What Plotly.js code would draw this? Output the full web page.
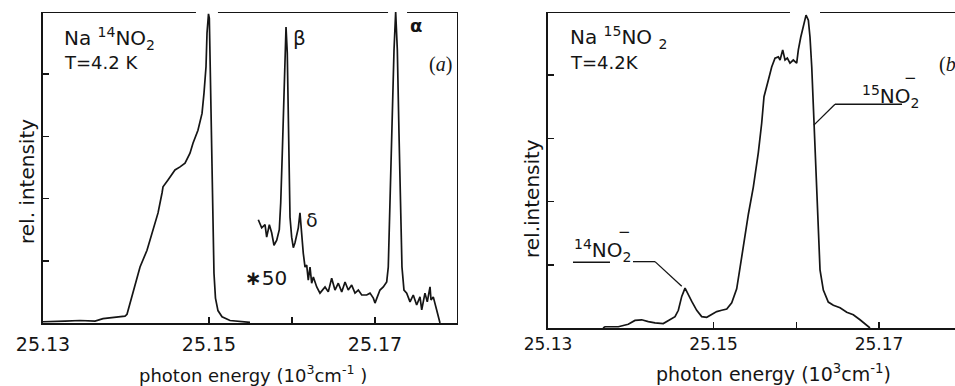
<!DOCTYPE html>
<html><head><meta charset="utf-8">
<script src="https://cdn.plot.ly/plotly-3.0.1.min.js"></script>
<style>html,body{margin:0;padding:0;background:#fff}#chart{width:955px;height:386px}</style>
</head><body><div id="chart"></div>
<script>
// ---- Panel (a): Na14NO2, T = 4.2 K ----
const aMainE = [25.13000, 25.13145, 25.13265, 25.13446, 25.13627, 25.13723, 25.13867, 25.13988, 25.14012, 25.14084,
  25.14169, 25.14253, 25.14325, 25.14386, 25.14434, 25.14446, 25.14506, 25.14590, 25.14651, 25.14711,
  25.14771, 25.14807, 25.14867, 25.14916, 25.14940, 25.14964, 25.14976, 25.14994, 25.15004, 25.15012,
  25.15024, 25.15036, 25.15048, 25.15060, 25.15078, 25.15108, 25.15157, 25.15253, 25.15494];
const aMainI = [0.02, 0.02, 0.03, 0.04, 0.03, 0.07, 0.09, 0.11, 0.14, 0.48,
  0.90, 1.17, 1.50, 1.77, 2.09, 2.19, 2.30, 2.46, 2.51, 2.57,
  2.73, 2.89, 3.10, 3.37, 3.70, 4.12, 4.66, 4.97, 4.90, 4.30,
  3.30, 2.30, 1.40, 0.80, 0.40, 0.20, 0.10, 0.04, 0.01];
// magnified (x50) part
const aX50E = [25.15594, 25.15635, 25.15675, 25.15695, 25.15727, 25.15755, 25.15783, 25.15816, 25.15847, 25.15864,
  25.15883, 25.15904, 25.15919, 25.15928, 25.15943, 25.15955, 25.15967, 25.15976, 25.15996, 25.16016,
  25.16036, 25.16057, 25.16076, 25.16096, 25.16108, 25.16124, 25.16136, 25.16157, 25.16177, 25.16196,
  25.16217, 25.16237, 25.16257, 25.16298, 25.16337, 25.16398, 25.16437, 25.16478, 25.16518, 25.16558,
  25.16599, 25.16639, 25.16678, 25.16719, 25.16759, 25.16799, 25.16840, 25.16900, 25.16940, 25.16980,
  25.17000, 25.17028, 25.17060, 25.17100, 25.17141, 25.17160, 25.17181, 25.17201, 25.17229, 25.17249,
  25.17269, 25.17289, 25.17310, 25.17325, 25.17349, 25.17382, 25.17422, 25.17461, 25.17502, 25.17542,
  25.17563, 25.17602, 25.17630, 25.17663, 25.17675, 25.17702, 25.17743, 25.17783];
const aX50I = [1.66, 1.53, 1.58, 1.38, 1.58, 1.45, 1.25, 1.33, 1.50, 1.93,
  2.73, 3.54, 4.44, 4.76, 4.34, 3.26, 2.19, 1.70, 1.38, 1.21,
  1.29, 1.45, 1.53, 1.77, 1.54, 1.33, 1.12, 0.90, 0.93, 0.69,
  0.90, 0.64, 0.74, 0.58, 0.48, 0.58, 0.50, 0.72, 0.53, 0.64,
  0.50, 0.66, 0.53, 0.61, 0.48, 0.53, 0.45, 0.45, 0.48, 0.40,
  0.32, 0.42, 0.53, 0.58, 0.66, 0.90, 1.98, 3.31, 4.39, 5.00,
  4.39, 3.05, 1.70, 0.90, 0.53, 0.48, 0.34, 0.45, 0.29, 0.42,
  0.21, 0.48, 0.34, 0.58, 0.37, 0.42, 0.21, 0.00];

// ---- Panel (b): Na15NO2, T = 4.2 K ----
const bE = [25.13665, 25.13689, 25.13850, 25.13970, 25.14051, 25.14132, 25.14212, 25.14293, 25.14393, 25.14474,
  25.14535, 25.14575, 25.14616, 25.14656, 25.14695, 25.14737, 25.14797, 25.14857, 25.14918, 25.14978,
  25.15039, 25.15099, 25.15160, 25.15220, 25.15280, 25.15320, 25.15360, 25.15421, 25.15481, 25.15541,
  25.15582, 25.15610, 25.15662, 25.15703, 25.15743, 25.15783, 25.15804, 25.15836, 25.15864, 25.15892,
  25.15924, 25.15964, 25.16005, 25.16025, 25.16054, 25.16085, 25.16118, 25.16146, 25.16166, 25.16187,
  25.16206, 25.16227, 25.16247, 25.16266, 25.16287, 25.16327, 25.16387, 25.16448, 25.16529, 25.16610,
  25.16689, 25.16770, 25.16851, 25.16891];
const bI = [0.00, 0.02, 0.02, 0.06, 0.12, 0.13, 0.10, 0.08, 0.07, 0.13,
  0.18, 0.28, 0.50, 0.63, 0.52, 0.42, 0.28, 0.18, 0.17, 0.21,
  0.26, 0.28, 0.30, 0.40, 0.62, 0.95, 1.30, 1.80, 2.23, 2.77,
  3.24, 3.66, 3.92, 4.13, 4.27, 4.29, 4.24, 4.40, 4.24, 4.27,
  4.19, 4.24, 4.19, 4.40, 4.60, 4.76, 4.95, 4.87, 4.60, 4.13,
  3.50, 2.77, 2.03, 1.34, 0.92, 0.60, 0.41, 0.36, 0.32, 0.25,
  0.21, 0.13, 0.05, 0.00];

const xTickVals = [25.13, 25.15, 25.16, 25.17];
const xTickText = ['25.13', '25.15', '', '25.17'];
const yTickVals = [1, 2, 3, 4];

const INK = '#151515';
const W = 955, H = 386;
const line = {color: INK, width: 1.7};

const traces = [
  {x: aMainE, y: aMainI, xaxis: 'x', yaxis: 'y', mode: 'lines', line: line, cliponaxis: false, hoverinfo: 'skip'},
  {x: aX50E, y: aX50I, xaxis: 'x', yaxis: 'y', mode: 'lines', line: line, cliponaxis: false, hoverinfo: 'skip'},
  {x: bE, y: bI, xaxis: 'x2', yaxis: 'y2', mode: 'lines', line: line, cliponaxis: false, hoverinfo: 'skip'}
];

function xAxis(domain, range, anchor, fsize, standoff) {
  return {domain: domain, range: range, anchor: anchor, showline: true, linewidth: 2, linecolor: INK,
    ticks: 'inside', ticklen: 6, tickwidth: 1.5, tickcolor: INK, tickmode: 'array',
    tickvals: xTickVals, ticktext: xTickText, showgrid: false, zeroline: false,
    tickfont: {family: 'DejaVu Sans, sans-serif', size: fsize, color: INK}, ticklabelstandoff: standoff, fixedrange: true};
}
function yAxis(domain, anchor) {
  return {domain: domain, range: [0, 5], anchor: anchor, showline: true, linewidth: 2, linecolor: INK,
    ticks: 'inside', ticklen: 6, tickwidth: 1.5, tickcolor: INK, tickmode: 'array', tickvals: yTickVals,
    showticklabels: false, showgrid: false, zeroline: false, fixedrange: true};
}

const aXr = [25.13, 25.18];
const bXr = [25.13, 25.17918];

const P = (px, py) => ({x: px / W, y: 1 - py / H});
function ann(text, px, py, size, extra) {
  const p = P(px, py);
  return Object.assign({xref: 'paper', yref: 'paper', x: p.x, y: p.y, text: text, showarrow: false,
    xanchor: 'center', yanchor: 'middle', font: {family: 'DejaVu Sans, sans-serif', size: size, color: INK}}, extra || {});
}

const annotations = [
  ann('Na <sup>14</sup>NO<sub>2</sub>', 62, 38, 20, {xanchor: 'left'}),
  ann('T=4.2 K', 62, 62, 18, {xanchor: 'left'}),
  ann('(<i>a</i>)', 440, 65, 20, {font: {family: 'Liberation Serif, serif', size: 20, color: INK}}),
  ann('β', 299, 38, 20),
  ann('<b>α</b>', 416, 25, 18),
  ann('δ', 312, 220, 19),
  ann('<b>∗</b>50', 266, 278, 20),
  ann('rel. intensity', 27, 182, 20, {textangle: -90}),
  ann('photon energy (10<sup>3</sup>cm<sup>-1</sup> )', 253, 374, 18),
  ann('Na <sup>15</sup>NO <sub>2</sub>', 568, 37, 20, {xanchor: 'left'}),
  ann('T=4.2K', 568, 62, 18, {xanchor: 'left'}),
  ann('(<i>b</i>)', 937, 65, 20, {xanchor: 'left', font: {family: 'Liberation Serif, serif', size: 20, color: INK}}),
  ann('<sup>15</sup>NO<sub>2</sub>', 860, 96, 20, {xanchor: 'left'}),
  ann('−', 910, 78, 15),
  ann('<sup>14</sup>NO<sub>2</sub>', 572, 250, 20, {xanchor: 'left'}),
  ann('−', 624, 232, 15),
  ann('rel.intensity', 532, 199, 20, {textangle: -90}),
  ann('photon energy (10<sup>3</sup>cm<sup>-1</sup>)', 773, 373, 19)
];

const sl = {color: INK, width: 2};
const thin = {color: INK, width: 1.3};
const shapes = [
  // broken top frame, panel (a)
  {type: 'line', xref: 'x', yref: 'y', x0: 25.13, x1: 25.14843, y0: 5, y1: 5, line: sl},
  {type: 'line', xref: 'x', yref: 'y', x0: 25.15108, x1: 25.17157, y0: 5, y1: 5, line: sl},
  {type: 'line', xref: 'x', yref: 'y', x0: 25.17386, x1: 25.18, y0: 5, y1: 5, line: sl},
  {type: 'line', xref: 'x', yref: 'y', x0: 25.18, x1: 25.18, y0: 0, y1: 5, line: sl},
  // broken top frame, panel (b)
  {type: 'line', xref: 'x2', yref: 'y2', x0: 25.13, x1: 25.15924, y0: 5, y1: 5, line: sl},
  {type: 'line', xref: 'x2', yref: 'y2', x0: 25.16287, x1: 25.17918, y0: 5, y1: 5, line: sl},
  // leader for 15NO2-
  {type: 'line', xref: 'x2', yref: 'y2', x0: 25.16468, x1: 25.17278, y0: 3.54, y1: 3.54, line: thin},
  {type: 'line', xref: 'x2', yref: 'y2', x0: 25.16468, x1: 25.16212, y0: 3.54, y1: 3.21, line: thin},
  // leader for 14NO2-
  {type: 'line', xref: 'x2', yref: 'y2', x0: 25.13302, x1: 25.13749, y0: 1.04, y1: 1.04, line: thin},
  {type: 'line', xref: 'x2', yref: 'y2', x0: 25.14027, x1: 25.14293, y0: 1.05, y1: 1.05, line: thin},
  {type: 'line', xref: 'x2', yref: 'y2', x0: 25.14293, x1: 25.14616, y0: 1.05, y1: 0.66, line: thin}
];

const layout = {
  width: W, height: H, margin: {l: 0, r: 0, t: 0, b: 0},
  paper_bgcolor: '#fff', plot_bgcolor: 'rgba(0,0,0,0)', showlegend: false,
  xaxis: xAxis([43 / W, 458 / W], aXr, 'y', 19, 3),
  yaxis: yAxis([1 - 323 / H, 1 - 12 / H], 'x'),
  xaxis2: xAxis([548 / W, 1], bXr, 'y2', 17, 0),
  yaxis2: yAxis([1 - 328 / H, 1 - 12 / H], 'x2'),
  annotations: annotations, shapes: shapes
};

Plotly.newPlot('chart', traces, layout, {staticPlot: true, displayModeBar: false});
</script></body></html>
